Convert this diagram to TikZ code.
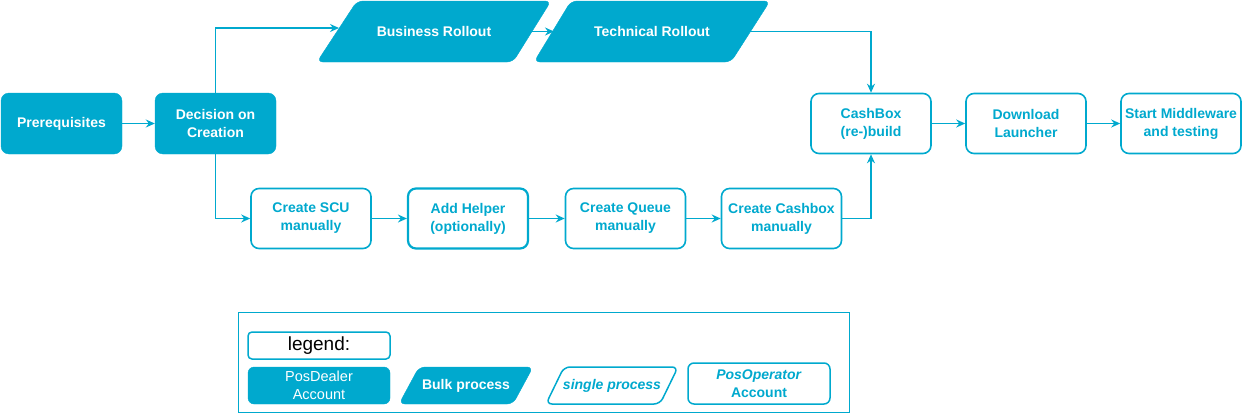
\documentclass[tikz,border=0pt]{standalone}
\usepackage{fontspec}
\setmainfont{Liberation Sans}
\usetikzlibrary{arrows.meta}
\definecolor{brand}{RGB}{0,169,206}
\begin{document}
\begin{tikzpicture}[x=1pt,y=-1pt,
  every node/.style={font=\bfseries\fontsize{14}{18}\selectfont, align=center, inner sep=0pt},
  fillbox/.style={rectangle, rounded corners=8pt, fill=brand, draw=brand, text=white, minimum width=121pt, minimum height=61pt},
  outbox/.style={rectangle, rounded corners=8pt, fill=white, draw=brand, line width=1.6pt, text=brand, minimum width=120pt, minimum height=60pt},
  parshape/.style={rounded corners=6pt, fill=brand, draw=brand},
  paroutline/.style={rounded corners=6pt, fill=white, draw=brand, line width=1.5pt},
  arr/.style={draw=brand, line width=1.6pt, -{Stealth[length=9pt,width=8pt,inset=3pt]}}
]
\useasboundingbox (0,0) rectangle (1242,415);

% main row
\node[fillbox] (pre) at (61.5,123.5) {Prerequisites};
\node[fillbox] (dec) at (215.5,123.5) {Decision on\\Creation};

\path[parshape] (357,1) -- (551,1) -- (513,62) -- (317,62) -- cycle;
\node[text=white] (bus) at (434,31.5) {Business Rollout};
\path[parshape] (571,1) -- (770,1) -- (731,62) -- (534,62) -- cycle;
\node[text=white] (tech) at (652,31.5) {Technical Rollout};
\coordinate (busW) at (339,28);
\coordinate (busE) at (532,31.5);
\coordinate (techW) at (554,31.5);
\coordinate (techE) at (750,31.5);

\node[outbox] (cash) at (871,123.5) {CashBox\\(re-)build};
\node[outbox] (dl) at (1026,123.5) {Download\\Launcher};
\node[outbox] (start) at (1181,123.5) {Start Middleware\\and testing};

% bottom row
\node[outbox] (scu) at (311,218.5) {Create SCU\\manually};
\node[outbox, line width=2.2pt] (help) at (468,218.5) {Add Helper\\(optionally)};
\node[outbox] (queue) at (625.5,218.5) {Create Queue\\manually};
\node[outbox] (ccb) at (781.5,218.5) {Create Cashbox\\manually};

% connectors
\draw[arr] (pre) -- (dec);
\draw[arr] (dec.north) |- (busW);
\draw[arr] (busE) -- (techW);
\draw[arr] (techE) -| (cash.north);
\draw[arr] (dec.south) |- (scu.west);
\draw[arr] (scu) -- (help);
\draw[arr] (help) -- (queue);
\draw[arr] (queue) -- (ccb);
\draw[arr] (ccb.east) -| (cash.south);
\draw[arr] (cash) -- (dl);
\draw[arr] (dl) -- (start);

% legend
\node[draw=brand, line width=1.6pt, minimum width=611pt, minimum height=100pt] (legframe) at (544,362.5) {};
\node[rectangle, rounded corners=4pt, draw=brand, line width=1.5pt, fill=white, minimum width=142pt, minimum height=27pt, text=black, font=\fontsize{19}{21}\selectfont] (legtitle) at (319,345.5) {legend:};
\node[rectangle, rounded corners=6pt, fill=brand, draw=brand, minimum width=142pt, minimum height=37pt, text=white, font=\fontsize{14.5}{18}\selectfont] (legdealer) at (319,385.5) {PosDealer\\Account};
\path[parshape] (419,367) -- (533,367) -- (513,404) -- (399,404) -- cycle;
\node[text=white] (legbulk) at (466,385.5) {Bulk process};
\path[paroutline] (564,367) -- (678,367) -- (660,404) -- (546,404) -- cycle;
\node[text=brand, font=\bfseries\itshape\fontsize{14}{18}\selectfont] (legsingle) at (612,385.5) {single process};
\node[rectangle, rounded corners=6pt, fill=white, draw=brand, line width=1.5pt, minimum width=142pt, minimum height=41pt, text=brand] (legop) at (759,383.5) {\textit{PosOperator}\\Account};
\end{tikzpicture}
\end{document}
